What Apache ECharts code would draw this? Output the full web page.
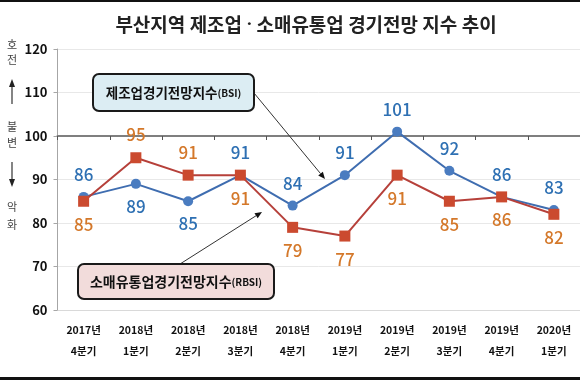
<!DOCTYPE html>
<html><head><meta charset="utf-8">
<script src="https://cdn.jsdelivr.net/npm/echarts@6/dist/echarts.min.js"></script>
<style>html,body{margin:0;padding:0;background:#fff}#c{width:580px;height:380px}</style>
</head><body><div id="c"></div>
<script>
// ---- data ----
const categories = ['2017년\n4분기','2018년\n1분기','2018년\n2분기','2018년\n3분기','2018년\n4분기','2019년\n1분기','2019년\n2분기','2019년\n3분기','2019년\n4분기','2020년\n1분기'];
const bsi  = [86, 89, 85, 91, 84, 91, 101, 92, 86, 83];
const rbsi = [85, 95, 91, 91, 79, 77, 91, 85, 86, 82];
const yMin = 60, yMax = 120, yStep = 10;
const titleParts = ['부산지역 제조업', '·', '소매유통업 경기전망 지수 추이'];
const bsiName = '제조업경기전망지수', bsiTag = '(BSI)';
const rbsiName = '소매유통업경기전망지수', rbsiTag = '(RBSI)';
const sideText = ['호','전','불','변','악','화'];
// label placement (style): which labels sit below their point
const bsiBelow  = [false, true, true, false, false, false, false, false, false, false];
const rbsiBelow = [true, false, false, true, true, true, true, true, true, true];

const FONT = "'Noto Sans CJK KR', 'Noto Sans', sans-serif";
const G = {left: 57.5, top: 49, width: 524, height: 261};
const baseOffset = -G.height * (100 - yMin) / (yMax - yMin);

function mkData(vals, below) {
  return vals.map((v, i) => ({
    value: v,
    label: {position: below[i] ? 'bottom' : 'top'}
  }));
}

function arrow(x1, y1, x2, y2) {
  const a = Math.atan2(y2 - y1, x2 - x1), L = 7, W = 3;
  const bx = x2 - L * Math.cos(a), by = y2 - L * Math.sin(a);
  const px = -Math.sin(a) * W, py = Math.cos(a) * W;
  return [
    {type: 'line', shape: {x1, y1, x2: bx, y2: by}, style: {stroke: '#333', lineWidth: 1}, z: 50},
    {type: 'polygon', shape: {points: [[x2, y2], [bx + px, by + py], [bx - px, by - py]]}, style: {fill: '#111'}, z: 50}
  ];
}

function box(x, y, w, h, fill, name, tag, fs) {
  return [
    {type: 'rect', shape: {x, y, width: w, height: h, r: 6}, style: {fill, stroke: '#1a1a1a', lineWidth: 2}, z: 60},
    {type: 'text', x: x + w / 2, y: y + h / 2, z: 61,
      style: {text: '{a|' + name + '}{b|' + tag + '}', align: 'center', verticalAlign: 'middle',
        rich: {a: {fontFamily: FONT, fontSize: fs, fontWeight: 'bold', fill: '#111'},
               b: {fontFamily: FONT, fontSize: 10, fontWeight: 'bold', fill: '#111', padding: [2, 0, 0, 0]}}}}
  ];
}

const sideYs = [45, 60, 127, 143, 207, 225];
const tStyle = {fontFamily: FONT, fontSize: 19, fontWeight: 'bold', fill: '#222'};
const graphics = [
  {type: 'rect', shape: {x: 0, y: 0, width: 580, height: 2}, style: {fill: '#111'}},
  {type: 'rect', shape: {x: 0, y: 377, width: 580, height: 3}, style: {fill: '#111'}},
  {type: 'text', x: 306, y: 25, style: {text: '{a|' + titleParts[0] + ' }{d|' + titleParts[1] + '}{a| ' + titleParts[2] + '}', align: 'center', verticalAlign: 'middle',
     rich: {a: tStyle, d: {fontFamily: 'Roboto, sans-serif', fontSize: 19, fontWeight: 'bold', fill: '#222'}}}},
  ...sideText.map((t, i) => ({type: 'text', x: 12, y: sideYs[i], style: {text: t, align: 'center', verticalAlign: 'middle', fontFamily: FONT, fontSize: 11, fill: '#444'}})),
  {type: 'line', shape: {x1: 12, y1: 104, x2: 12, y2: 86}, style: {stroke: '#333', lineWidth: 1.2}},
  {type: 'polygon', shape: {points: [[12, 79], [9, 87], [15, 87]]}, style: {fill: '#222'}},
  {type: 'line', shape: {x1: 12, y1: 162, x2: 12, y2: 180}, style: {stroke: '#333', lineWidth: 1.2}},
  {type: 'polygon', shape: {points: [[12, 187], [9, 179], [15, 179]]}, style: {fill: '#222'}},
  ...arrow(254, 93, 325, 179),
  ...arrow(180, 264, 262, 212),
  ...box(93, 74, 161, 37, '#dcedf3', bsiName, bsiTag, 13.5),
  ...box(78, 264, 196, 35, '#f2dcdb', rbsiName, rbsiTag, 14)
];

const chart = echarts.init(document.getElementById('c'), null, {renderer: 'canvas'});
chart.setOption({
  animation: false,
  backgroundColor: '#fff',
  grid: G,
  xAxis: [
    {type: 'category', data: categories, boundaryGap: true,
     axisLine: {lineStyle: {color: '#d9d9d9', width: 1}}, axisTick: {show: false},
     axisLabel: {fontFamily: FONT, fontSize: 10.5, fontWeight: 'bold', color: '#111', lineHeight: 21, margin: 10, interval: 0}},
    {type: 'category', data: categories, boundaryGap: true, position: 'bottom', offset: baseOffset,
     axisLine: {lineStyle: {color: '#7f7f7f', width: 2}},
     axisTick: {show: true, length: 4, lineStyle: {color: '#555', width: 1}},
     axisLabel: {show: false}, splitLine: {show: false}}
  ],
  yAxis: {type: 'value', min: yMin, max: yMax, interval: yStep,
    axisLine: {show: true, lineStyle: {color: '#a6a6a6'}},
    axisTick: {show: true, length: 4, lineStyle: {color: '#a6a6a6'}},
    splitLine: {lineStyle: {color: '#e8e8e8'}},
    axisLabel: {fontFamily: FONT, fontSize: 13, fontWeight: 'bold', color: '#111', margin: 10}},
  series: [
    {name: 'BSI', type: 'line', data: mkData(bsi, bsiBelow), symbol: 'circle', symbolSize: 10,
     lineStyle: {color: '#3f6db0', width: 2}, itemStyle: {color: '#4a7cc0'}, z: 3,
     label: {show: true, distance: 9, fontFamily: FONT, fontSize: 17, fontWeight: 500, color: '#2e70b3'}},
    {name: 'RBSI', type: 'line', data: mkData(rbsi, rbsiBelow), symbol: 'rect', symbolSize: 11,
     lineStyle: {color: '#b6403a', width: 2}, itemStyle: {color: '#cb4a2f'}, z: 4,
     label: {show: true, distance: 9, fontFamily: FONT, fontSize: 17, fontWeight: 500, color: '#d4782a'}}
  ],
  graphic: graphics
});
</script></body></html>
